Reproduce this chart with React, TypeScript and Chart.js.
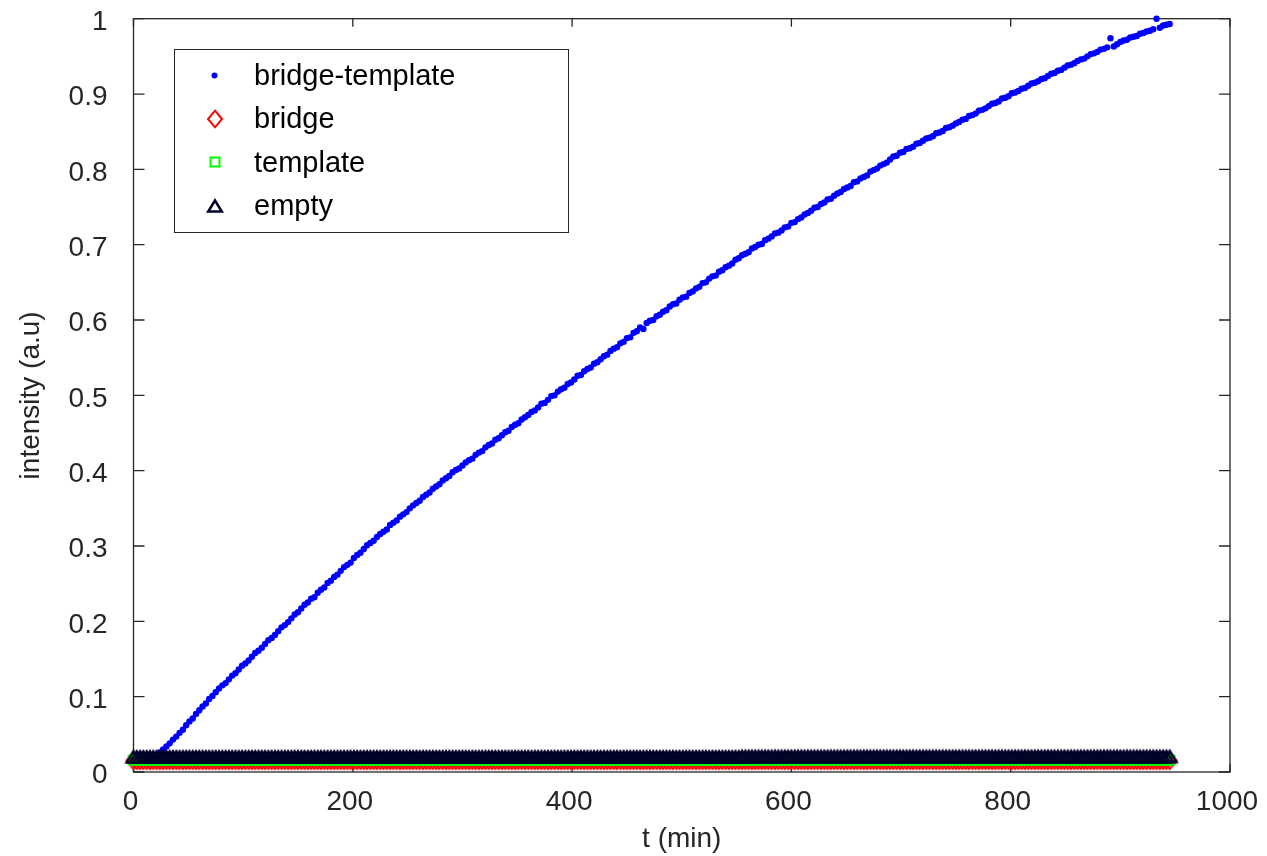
import React, { useEffect, useRef } from 'react';
import { Chart, registerables } from 'chart.js';

Chart.register(...registerables);

// Sampling interval of the plate reader, minutes between consecutive reads
const SAMPLE_STEP_MIN = 3;

const SERIES_LABELS = ['bridge-template', 'bridge', 'template', 'empty'];

const X_TICKS = [0, 200, 400, 600, 800, 1000];
const Y_TICKS = [0, 0.1, 0.2, 0.3, 0.4, 0.5, 0.6, 0.7, 0.8, 0.9, 1];

// Normalised fluorescence, one value per read (t = 0, 3, 6, ... min)
const BRIDGE_TEMPLATE = [
  0.016, 0.017, 0.016, 0.017, 0.018, 0.017, 0.019, 0.022, 0.026, 0.030,
  0.034, 0.038, 0.043, 0.047, 0.052, 0.056, 0.062, 0.067, 0.071, 0.077,
  0.082, 0.087, 0.091, 0.097, 0.101, 0.106, 0.111, 0.115, 0.118, 0.123,
  0.128, 0.131, 0.136, 0.141, 0.144, 0.148, 0.153, 0.158, 0.161, 0.165,
  0.170, 0.175, 0.178, 0.182, 0.187, 0.192, 0.195, 0.199, 0.204, 0.209,
  0.212, 0.217, 0.222, 0.225, 0.230, 0.232, 0.238, 0.242, 0.245, 0.251,
  0.254, 0.259, 0.262, 0.267, 0.272, 0.275, 0.278, 0.284, 0.288, 0.291,
  0.296, 0.301, 0.304, 0.307, 0.312, 0.316, 0.319, 0.322, 0.328, 0.331,
  0.334, 0.339, 0.342, 0.345, 0.350, 0.354, 0.357, 0.360, 0.365, 0.368,
  0.371, 0.376, 0.379, 0.382, 0.387, 0.390, 0.393, 0.398, 0.401, 0.403,
  0.407, 0.411, 0.414, 0.416, 0.421, 0.424, 0.426, 0.431, 0.434, 0.436,
  0.441, 0.443, 0.447, 0.451, 0.453, 0.458, 0.461, 0.463, 0.468, 0.471,
  0.474, 0.478, 0.480, 0.484, 0.489, 0.490, 0.494, 0.499, 0.500, 0.505,
  0.508, 0.510, 0.515, 0.517, 0.521, 0.526, 0.527, 0.532, 0.535, 0.537,
  0.542, 0.544, 0.548, 0.552, 0.554, 0.559, 0.562, 0.564, 0.569, 0.571,
  0.576, 0.577, 0.583, 0.585, 0.590, 0.588, 0.596, 0.599, 0.600, 0.605,
  0.607, 0.611, 0.613, 0.618, 0.621, 0.622, 0.627, 0.630, 0.631, 0.636,
  0.638, 0.642, 0.644, 0.649, 0.650, 0.655, 0.658, 0.659, 0.664, 0.666,
  0.670, 0.672, 0.675, 0.680, 0.682, 0.686, 0.688, 0.690, 0.695, 0.697,
  0.700, 0.701, 0.706, 0.708, 0.711, 0.715, 0.716, 0.719, 0.723, 0.724,
  0.729, 0.730, 0.734, 0.736, 0.740, 0.742, 0.745, 0.749, 0.750, 0.754,
  0.756, 0.760, 0.761, 0.765, 0.768, 0.770, 0.774, 0.776, 0.778, 0.783,
  0.784, 0.788, 0.790, 0.792, 0.797, 0.799, 0.801, 0.805, 0.807, 0.809,
  0.813, 0.817, 0.818, 0.822, 0.823, 0.827, 0.828, 0.830, 0.834, 0.835,
  0.838, 0.841, 0.842, 0.844, 0.848, 0.849, 0.851, 0.855, 0.856, 0.858,
  0.861, 0.863, 0.866, 0.867, 0.871, 0.872, 0.874, 0.878, 0.879, 0.881,
  0.884, 0.887, 0.888, 0.890, 0.894, 0.895, 0.897, 0.901, 0.902, 0.904,
  0.907, 0.908, 0.911, 0.914, 0.915, 0.917, 0.920, 0.921, 0.924, 0.927,
  0.928, 0.931, 0.932, 0.935, 0.938, 0.939, 0.941, 0.944, 0.946, 0.947,
  0.950, 0.953, 0.954, 0.956, 0.959, 0.960, 0.962, 0.974, 0.963, 0.966,
  0.969, 0.971, 0.972, 0.975, 0.976, 0.977, 0.980, 0.981, 0.983, 0.984,
  0.986, 1.000, 0.988, 0.991, 0.992, 0.993,
];

const BRIDGE = [
  0.015, 0.015, 0.015, 0.015, 0.015, 0.015, 0.015, 0.015, 0.015, 0.015,
  0.015, 0.015, 0.015, 0.015, 0.015, 0.015, 0.015, 0.015, 0.015, 0.015,
  0.015, 0.015, 0.015, 0.015, 0.015, 0.015, 0.015, 0.015, 0.015, 0.015,
  0.015, 0.015, 0.015, 0.015, 0.015, 0.015, 0.015, 0.015, 0.015, 0.015,
  0.015, 0.015, 0.015, 0.015, 0.015, 0.015, 0.015, 0.015, 0.015, 0.015,
  0.015, 0.015, 0.015, 0.015, 0.015, 0.015, 0.015, 0.015, 0.015, 0.015,
  0.015, 0.015, 0.015, 0.015, 0.015, 0.015, 0.015, 0.015, 0.015, 0.015,
  0.015, 0.015, 0.015, 0.015, 0.015, 0.015, 0.015, 0.015, 0.015, 0.015,
  0.015, 0.015, 0.015, 0.015, 0.015, 0.015, 0.015, 0.015, 0.015, 0.015,
  0.015, 0.015, 0.015, 0.015, 0.015, 0.015, 0.015, 0.015, 0.015, 0.015,
  0.015, 0.015, 0.015, 0.015, 0.015, 0.015, 0.015, 0.015, 0.015, 0.015,
  0.015, 0.015, 0.015, 0.015, 0.015, 0.015, 0.015, 0.015, 0.015, 0.015,
  0.015, 0.015, 0.015, 0.015, 0.015, 0.015, 0.015, 0.015, 0.015, 0.015,
  0.015, 0.015, 0.015, 0.015, 0.015, 0.015, 0.015, 0.015, 0.015, 0.015,
  0.015, 0.015, 0.015, 0.015, 0.015, 0.015, 0.015, 0.015, 0.015, 0.015,
  0.015, 0.015, 0.015, 0.015, 0.015, 0.015, 0.015, 0.015, 0.015, 0.015,
  0.015, 0.015, 0.015, 0.015, 0.015, 0.015, 0.015, 0.015, 0.015, 0.015,
  0.015, 0.015, 0.015, 0.015, 0.015, 0.015, 0.015, 0.015, 0.015, 0.015,
  0.015, 0.015, 0.015, 0.015, 0.015, 0.015, 0.015, 0.015, 0.015, 0.015,
  0.015, 0.015, 0.015, 0.015, 0.015, 0.015, 0.015, 0.015, 0.015, 0.015,
  0.015, 0.015, 0.015, 0.015, 0.015, 0.015, 0.015, 0.015, 0.015, 0.015,
  0.015, 0.015, 0.015, 0.015, 0.015, 0.015, 0.015, 0.015, 0.015, 0.015,
  0.015, 0.015, 0.015, 0.015, 0.015, 0.015, 0.015, 0.015, 0.015, 0.015,
  0.015, 0.015, 0.015, 0.015, 0.015, 0.015, 0.015, 0.015, 0.015, 0.015,
  0.015, 0.015, 0.015, 0.015, 0.015, 0.015, 0.015, 0.015, 0.015, 0.015,
  0.015, 0.015, 0.015, 0.015, 0.015, 0.015, 0.015, 0.015, 0.015, 0.015,
  0.015, 0.015, 0.015, 0.015, 0.015, 0.015, 0.015, 0.015, 0.015, 0.015,
  0.015, 0.015, 0.015, 0.015, 0.015, 0.015, 0.015, 0.015, 0.015, 0.015,
  0.015, 0.015, 0.015, 0.015, 0.015, 0.015, 0.015, 0.015, 0.015, 0.015,
  0.015, 0.015, 0.015, 0.015, 0.015, 0.015, 0.015, 0.015, 0.015, 0.015,
  0.015, 0.015, 0.015, 0.015, 0.015, 0.015, 0.015, 0.015, 0.015, 0.015,
  0.015, 0.015, 0.015, 0.015, 0.015, 0.015,
];

const TEMPLATE = [
  0.016, 0.016, 0.016, 0.016, 0.016, 0.016, 0.016, 0.016, 0.016, 0.016,
  0.016, 0.016, 0.016, 0.016, 0.016, 0.016, 0.016, 0.016, 0.016, 0.016,
  0.016, 0.016, 0.016, 0.016, 0.016, 0.016, 0.016, 0.016, 0.016, 0.016,
  0.016, 0.016, 0.016, 0.016, 0.016, 0.016, 0.016, 0.016, 0.016, 0.016,
  0.016, 0.016, 0.016, 0.016, 0.016, 0.016, 0.016, 0.016, 0.016, 0.016,
  0.016, 0.016, 0.016, 0.016, 0.016, 0.016, 0.016, 0.016, 0.016, 0.016,
  0.016, 0.016, 0.016, 0.016, 0.016, 0.016, 0.016, 0.016, 0.016, 0.016,
  0.016, 0.016, 0.016, 0.016, 0.016, 0.016, 0.016, 0.016, 0.016, 0.016,
  0.016, 0.016, 0.016, 0.016, 0.016, 0.016, 0.016, 0.016, 0.016, 0.016,
  0.016, 0.016, 0.016, 0.016, 0.016, 0.016, 0.016, 0.016, 0.016, 0.016,
  0.016, 0.016, 0.016, 0.016, 0.016, 0.016, 0.016, 0.016, 0.016, 0.016,
  0.016, 0.016, 0.016, 0.016, 0.016, 0.016, 0.016, 0.016, 0.016, 0.016,
  0.016, 0.016, 0.016, 0.016, 0.016, 0.016, 0.016, 0.016, 0.016, 0.016,
  0.016, 0.016, 0.016, 0.016, 0.016, 0.016, 0.016, 0.016, 0.016, 0.016,
  0.016, 0.016, 0.016, 0.016, 0.016, 0.016, 0.016, 0.016, 0.016, 0.016,
  0.016, 0.016, 0.016, 0.016, 0.016, 0.016, 0.016, 0.016, 0.016, 0.016,
  0.016, 0.016, 0.016, 0.016, 0.016, 0.016, 0.016, 0.016, 0.016, 0.016,
  0.016, 0.016, 0.016, 0.016, 0.016, 0.016, 0.016, 0.016, 0.016, 0.016,
  0.016, 0.016, 0.016, 0.016, 0.016, 0.016, 0.016, 0.016, 0.016, 0.016,
  0.016, 0.016, 0.016, 0.016, 0.016, 0.016, 0.016, 0.016, 0.016, 0.016,
  0.016, 0.016, 0.016, 0.016, 0.016, 0.016, 0.016, 0.016, 0.016, 0.016,
  0.016, 0.016, 0.016, 0.016, 0.016, 0.016, 0.016, 0.016, 0.016, 0.016,
  0.016, 0.016, 0.016, 0.016, 0.016, 0.016, 0.016, 0.016, 0.016, 0.016,
  0.016, 0.016, 0.016, 0.016, 0.016, 0.016, 0.016, 0.016, 0.016, 0.016,
  0.016, 0.016, 0.016, 0.016, 0.016, 0.016, 0.016, 0.016, 0.016, 0.016,
  0.016, 0.016, 0.016, 0.016, 0.016, 0.016, 0.016, 0.016, 0.016, 0.016,
  0.016, 0.016, 0.016, 0.016, 0.016, 0.016, 0.016, 0.016, 0.016, 0.016,
  0.016, 0.016, 0.016, 0.016, 0.016, 0.016, 0.016, 0.016, 0.016, 0.016,
  0.016, 0.016, 0.016, 0.016, 0.016, 0.016, 0.016, 0.016, 0.016, 0.016,
  0.016, 0.016, 0.016, 0.016, 0.016, 0.016, 0.016, 0.016, 0.016, 0.016,
  0.016, 0.016, 0.016, 0.016, 0.016, 0.016, 0.016, 0.016, 0.016, 0.016,
  0.016, 0.016, 0.016, 0.016, 0.016, 0.016,
];

const EMPTY = [
  0.0200, 0.0200, 0.0200, 0.0200, 0.0200, 0.0200, 0.0200, 0.0200, 0.0200, 0.0200,
  0.0200, 0.0200, 0.0200, 0.0200, 0.0200, 0.0200, 0.0200, 0.0200, 0.0200, 0.0200,
  0.0200, 0.0200, 0.0200, 0.0200, 0.0200, 0.0200, 0.0200, 0.0200, 0.0200, 0.0200,
  0.0200, 0.0200, 0.0200, 0.0200, 0.0200, 0.0200, 0.0200, 0.0200, 0.0200, 0.0200,
  0.0200, 0.0200, 0.0200, 0.0200, 0.0200, 0.0200, 0.0200, 0.0200, 0.0200, 0.0200,
  0.0200, 0.0200, 0.0200, 0.0200, 0.0200, 0.0200, 0.0200, 0.0200, 0.0200, 0.0200,
  0.0200, 0.0200, 0.0200, 0.0200, 0.0200, 0.0200, 0.0200, 0.0200, 0.0200, 0.0200,
  0.0200, 0.0200, 0.0200, 0.0200, 0.0200, 0.0200, 0.0200, 0.0200, 0.0200, 0.0200,
  0.0200, 0.0200, 0.0200, 0.0200, 0.0200, 0.0200, 0.0200, 0.0200, 0.0200, 0.0200,
  0.0200, 0.0200, 0.0200, 0.0200, 0.0200, 0.0200, 0.0200, 0.0200, 0.0200, 0.0200,
  0.0200, 0.0200, 0.0200, 0.0200, 0.0200, 0.0200, 0.0200, 0.0200, 0.0200, 0.0200,
  0.0200, 0.0200, 0.0200, 0.0200, 0.0200, 0.0200, 0.0200, 0.0200, 0.0200, 0.0200,
  0.0200, 0.0200, 0.0200, 0.0200, 0.0200, 0.0200, 0.0200, 0.0200, 0.0200, 0.0200,
  0.0200, 0.0200, 0.0200, 0.0200, 0.0200, 0.0200, 0.0200, 0.0200, 0.0200, 0.0200,
  0.0200, 0.0200, 0.0200, 0.0200, 0.0200, 0.0200, 0.0200, 0.0200, 0.0200, 0.0200,
  0.0200, 0.0200, 0.0200, 0.0200, 0.0200, 0.0200, 0.0200, 0.0200, 0.0200, 0.0200,
  0.0200, 0.0200, 0.0200, 0.0200, 0.0200, 0.0200, 0.0200, 0.0200, 0.0200, 0.0200,
  0.0200, 0.0200, 0.0200, 0.0200, 0.0200, 0.0200, 0.0200, 0.0200, 0.0200, 0.0200,
  0.0200, 0.0200, 0.0200, 0.0200, 0.0200, 0.0205, 0.0205, 0.0205, 0.0205, 0.0205,
  0.0205, 0.0205, 0.0205, 0.0205, 0.0205, 0.0205, 0.0205, 0.0205, 0.0205, 0.0205,
  0.0205, 0.0205, 0.0205, 0.0205, 0.0205, 0.0205, 0.0205, 0.0205, 0.0205, 0.0205,
  0.0205, 0.0205, 0.0205, 0.0205, 0.0205, 0.0205, 0.0205, 0.0205, 0.0205, 0.0205,
  0.0205, 0.0205, 0.0205, 0.0205, 0.0205, 0.0205, 0.0205, 0.0205, 0.0205, 0.0205,
  0.0205, 0.0205, 0.0205, 0.0205, 0.0205, 0.0205, 0.0205, 0.0205, 0.0205, 0.0205,
  0.0205, 0.0205, 0.0205, 0.0205, 0.0205, 0.0205, 0.0205, 0.0205, 0.0205, 0.0205,
  0.0205, 0.0205, 0.0205, 0.0205, 0.0205, 0.0205, 0.0205, 0.0205, 0.0205, 0.0205,
  0.0205, 0.0205, 0.0205, 0.0205, 0.0205, 0.0205, 0.0205, 0.0205, 0.0205, 0.0205,
  0.0205, 0.0205, 0.0205, 0.0205, 0.0205, 0.0205, 0.0205, 0.0205, 0.0205, 0.0205,
  0.0205, 0.0205, 0.0205, 0.0205, 0.0205, 0.0205, 0.0205, 0.0205, 0.0205, 0.0205,
  0.0205, 0.0205, 0.0205, 0.0205, 0.0205, 0.0205, 0.0205, 0.0205, 0.0205, 0.0205,
  0.0205, 0.0205, 0.0205, 0.0205, 0.0205, 0.0205, 0.0205, 0.0205, 0.0205, 0.0205,
  0.0205, 0.0205, 0.0205, 0.0205, 0.0205, 0.0205,
];

const FONT = "'Liberation Sans', Arial, sans-serif";
const AXIS_COLOR = '#262626';

const BLUE = '#0000ff';
const RED = '#ff0000';
const GREEN = '#00ff00';
const NAVY = '#00002a';

const toPoints = (values: number[]) =>
  values.map((v, i) => ({ x: i * SAMPLE_STEP_MIN, y: v }));

// Open marker glyphs rendered once to small canvases and reused as point styles
function markerCanvas(
  w: number,
  h: number,
  color: string,
  lineWidth: number,
  path: (ctx: CanvasRenderingContext2D, cx: number, cy: number) => void
): HTMLCanvasElement {
  const c = document.createElement('canvas');
  c.width = w;
  c.height = h;
  const ctx = c.getContext('2d')!;
  ctx.strokeStyle = color;
  ctx.lineWidth = lineWidth;
  ctx.lineJoin = 'miter';
  ctx.beginPath();
  path(ctx, w / 2, h / 2);
  ctx.closePath();
  ctx.stroke();
  return c;
}

function makeMarkers() {
  const diamond = markerCanvas(20, 22, RED, 2, (ctx, cx, cy) => {
    ctx.moveTo(cx, cy - 8.3);
    ctx.lineTo(cx + 7, cy);
    ctx.lineTo(cx, cy + 8.3);
    ctx.lineTo(cx - 7, cy);
  });
  const square = markerCanvas(14, 14, GREEN, 2, (ctx, cx, cy) => {
    ctx.rect(cx - 4.5, cy - 4.5, 9, 9);
  });
  const triangle = markerCanvas(22, 20, NAVY, 2.5, (ctx, cx, cy) => {
    ctx.moveTo(cx, cy - 5.5);
    ctx.lineTo(cx + 6.8, cy + 5.5);
    ctx.lineTo(cx - 6.8, cy + 5.5);
  });
  return { diamond, square, triangle };
}

// Keep the plot frame at fixed pixel edges: drop the extra room Chart.js
// reserves for the overhang of the first/last tick labels
function fixScalePadding(s: any) {
  s.paddingTop = 0;
  s.paddingBottom = 0;
  s.paddingLeft = 0;
  s.paddingRight = 0;
}

export default function App() {
  const canvasRef = useRef<HTMLCanvasElement>(null);

  useEffect(() => {
    const canvas = canvasRef.current;
    if (!canvas) return;
    const markers = makeMarkers();

    const framePlugin = {
      id: 'boxFrame',
      beforeDatasetsDraw(chart: any) {
        const { ctx, chartArea: a, scales } = chart;
        ctx.save();
        ctx.strokeStyle = AXIS_COLOR;
        ctx.lineWidth = 1.3;
        ctx.strokeRect(a.left, a.top, a.right - a.left, a.bottom - a.top);
        ctx.beginPath();
        for (const v of X_TICKS) {
          const px = scales.x.getPixelForValue(v);
          ctx.moveTo(px, a.bottom);
          ctx.lineTo(px, a.bottom - 8);
          ctx.moveTo(px, a.top);
          ctx.lineTo(px, a.top + 8);
        }
        for (const v of Y_TICKS) {
          const py = scales.y.getPixelForValue(v);
          ctx.moveTo(a.left, py);
          ctx.lineTo(a.left + 11, py);
          ctx.moveTo(a.right, py);
          ctx.lineTo(a.right - 11, py);
        }
        ctx.stroke();
        ctx.restore();
      },
    };

    const legendPlugin = {
      id: 'boxLegend',
      afterDatasetsDraw(chart: any) {
        const { ctx } = chart;
        ctx.save();
        ctx.fillStyle = '#ffffff';
        ctx.fillRect(174.5, 49.5, 394, 183);
        ctx.strokeStyle = AXIS_COLOR;
        ctx.lineWidth = 1;
        ctx.strokeRect(174.5, 49.5, 394, 183);
        const baselines = [85, 128.3, 171.7, 215];
        const markerX = 214.5;
        SERIES_LABELS.forEach((label, i) => {
          const my = baselines[i] - 9.5;
          if (i === 0) {
            ctx.fillStyle = BLUE;
            ctx.beginPath();
            ctx.arc(markerX, my, 3, 0, Math.PI * 2);
            ctx.fill();
          } else {
            const img = [markers.diamond, markers.square, markers.triangle][i - 1];
            ctx.drawImage(img, Math.round(markerX - img.width / 2), Math.round(my - img.height / 2));
          }
          ctx.fillStyle = '#000000';
          ctx.font = `29px ${FONT}`;
          ctx.textBaseline = 'alphabetic';
          ctx.textAlign = 'left';
          ctx.fillText(label, 254, baselines[i]);
        });
        ctx.restore();
      },
    };

    const chart = new Chart(canvas, {
      type: 'scatter',
      data: {
        datasets: [
          {
            label: SERIES_LABELS[0],
            data: toPoints(BRIDGE_TEMPLATE),
            pointStyle: 'circle',
            pointRadius: 3.2,
            pointBorderWidth: 0,
            pointBackgroundColor: BLUE,
            pointBorderColor: BLUE,
            order: 4,
            clip: false as any,
          },
          {
            label: SERIES_LABELS[1],
            data: toPoints(BRIDGE),
            pointStyle: markers.diamond as any,
            pointRadius: 8,
            order: 3,
            clip: false as any,
          },
          {
            label: SERIES_LABELS[2],
            data: toPoints(TEMPLATE),
            pointStyle: markers.square as any,
            pointRadius: 6,
            order: 2,
            clip: false as any,
          },
          {
            label: SERIES_LABELS[3],
            data: toPoints(EMPTY),
            pointStyle: markers.triangle as any,
            pointRadius: 8,
            order: 1,
            clip: false as any,
          },
        ],
      },
      options: {
        animation: false,
        responsive: false,
        maintainAspectRatio: false,
        events: [],
        layout: { padding: { left: 0, top: 18.7, right: 37, bottom: 0 } },
        plugins: {
          legend: { display: false },
          tooltip: { enabled: false },
        },
        scales: {
          x: {
            type: 'linear',
            min: 0,
            max: 1000,
            afterBuildTicks: (s: any) => {
              s.ticks = X_TICKS.map((v) => ({ value: v }));
            },
            afterFit: (s: any) => {
              s.height = 84;
              fixScalePadding(s);
            },
            ticks: {
              color: AXIS_COLOR,
              font: { family: FONT, size: 28 },
              padding: 13,
              labelOffset: -3,
              maxRotation: 0,
              autoSkip: false,
              callback: (v: any) => String(v),
            },
            grid: { display: false, drawTicks: false },
            border: { display: false },
            title: {
              display: true,
              text: 't (min)',
              color: AXIS_COLOR,
              font: { family: FONT, size: 28 },
              padding: { top: 1, bottom: 0 },
            },
          },
          y: {
            type: 'linear',
            min: 0,
            max: 1,
            afterBuildTicks: (s: any) => {
              s.ticks = Y_TICKS.map((v) => ({ value: v }));
            },
            afterFit: (s: any) => {
              s.width = 133.5;
              fixScalePadding(s);
            },
            ticks: {
              color: AXIS_COLOR,
              font: { family: FONT, size: 28 },
              padding: 26,
              labelOffset: 3.5,
              autoSkip: false,
              callback: (v: any) => String(v),
            },
            grid: { display: false, drawTicks: false },
            border: { display: false },
            title: {
              display: true,
              text: 'intensity (a.u)',
              color: AXIS_COLOR,
              font: { family: FONT, size: 28 },
              padding: { top: 14, bottom: 0 },
            },
          },
        },
      },
      plugins: [framePlugin, legendPlugin],
    });

    return () => chart.destroy();
  }, []);

  return (
    <div
      style={{
        position: 'absolute',
        left: 0,
        top: 0,
        width: 1267,
        height: 856,
        background: '#ffffff',
      }}
    >
      <canvas
        ref={canvasRef}
        width={1267}
        height={856}
        style={{ display: 'block', width: 1267, height: 856 }}
      />
    </div>
  );
}
